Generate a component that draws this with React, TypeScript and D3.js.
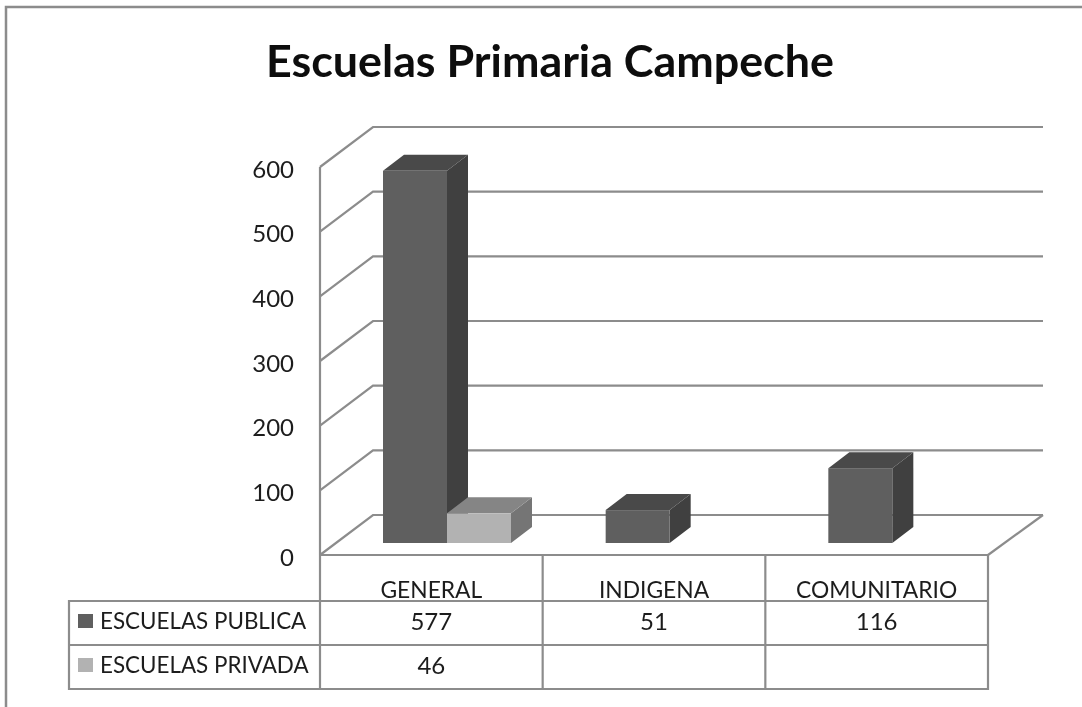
import React from 'react';
import * as d3 from 'd3';

const title = 'Escuelas Primaria Campeche';
const categories = ['GENERAL', 'INDIGENA', 'COMUNITARIO'];
const seriesNames = ['ESCUELAS PUBLICA', 'ESCUELAS PRIVADA'];
const publica: (number | null)[] = [577, 51, 116];
const privada: (number | null)[] = [46, null, null];
const yTicks = [0, 100, 200, 300, 400, 500, 600];

const W = 1082, H = 707;
const plotLeft = 320, plotRight = 988;
const floorFront = 555, wallTop = 167;
const depthXLeft = 53, depthXRight = 55, depthY = -40;
const barDX = 21, barDY = -16;
const barBase = 543;
const GRID = '#8c8c8c';
const TXT = '#1c1c1c';
const FONT = 'Lato, Carlito, "Open Sans", sans-serif';

const x0 = d3.scaleBand<string>().domain(categories).range([plotLeft, plotRight]);
const xInner = d3.scaleBand<string>().domain(['0', '1']).range([63, 63 + 128]);
const yFront = d3.scaleLinear().domain([0, 600]).range([floorFront, wallTop]);
const barH = d3.scaleLinear().domain([0, 600]).range([0, 387]);

const rowYs = [601, 645, 689];
const tableLeft = 69;
const swatchColors = ['#5f5f5f', '#b2b2b2'];

const palette = [
  { front: '#5f5f5f', top: '#484848', side: '#3f3f3f' },
  { front: '#b2b2b2', top: '#858585', side: '#747474' },
];

function Bar({ x, w, v, s }: { x: number; w: number; v: number; s: number }) {
  const top = barBase - barH(v);
  const c = palette[s];
  const poly = d3.line();
  return (
    <g>
      <path d={poly([[x + w, barBase], [x + w + barDX, barBase + barDY], [x + w + barDX, top + barDY], [x + w, top]]) + 'Z'} fill={c.side} />
      <path d={poly([[x, top], [x + barDX, top + barDY], [x + w + barDX, top + barDY], [x + w, top]]) + 'Z'} fill={c.top} />
      <rect x={x} y={top} width={w} height={barH(v)} fill={c.front} />
    </g>
  );
}

export default function App() {
  const series = [publica, privada];
  return (
    <svg width={W} height={H} style={{ position: 'absolute', left: 0, top: 0, background: '#fff' }}>
      <defs>
        <filter id="soft" x="-2%" y="-2%" width="104%" height="104%">
          <feGaussianBlur stdDeviation="0.45" />
        </filter>
      </defs>
      <g filter="url(#soft)">
        <path d={`M6,${H}V7H${W}`} fill="none" stroke={GRID} strokeWidth={2.5} />
        <text x={550} y={77} textAnchor="middle" fontFamily={FONT} fontWeight={700} fontSize={44.8} fill="#0a0a0a">{title}</text>

        {/* back wall gridlines and side wall diagonals */}
        {yTicks.map(t => (
          <path key={t} d={`M${plotLeft},${yFront(t)}L${plotLeft + depthXLeft},${yFront(t) + depthY}H${plotRight + depthXRight}`} fill="none" stroke={GRID} strokeWidth={2.2} />
        ))}
        <path d={`M${plotLeft},${wallTop}V${floorFront}`} stroke={GRID} strokeWidth={2.2} />
        {/* floor right edge */}
        <path d={`M${plotRight},${floorFront}L${plotRight + depthXRight},${floorFront + depthY}`} stroke={GRID} strokeWidth={2.2} fill="none" />

        {yTicks.map(t => (
          <text key={t} x={294} y={yFront(t) + 10.5} textAnchor="end" fontFamily={FONT} fontSize={24} fill={TXT}>{t}</text>
        ))}

        {/* bars */}
        {categories.map((c, i) =>
          series.map((vals, s) => {
            const v = vals[i];
            if (v == null) return null;
            return <Bar key={c + s} x={x0(c)! + xInner(String(s))!} w={xInner.bandwidth()} v={v} s={s} />;
          })
        )}

        {/* data table */}
        <path d={`M${plotLeft},${floorFront}H${plotRight}V${rowYs[2]}H${tableLeft}V${rowYs[0]}H${plotRight}M${tableLeft},${rowYs[1]}H${plotRight}`} fill="none" stroke={GRID} strokeWidth={2.2} />
        {[0, 1, 2].map(i => (
          <path key={i} d={`M${x0(categories[i])},${floorFront}V${rowYs[2]}`} stroke={GRID} strokeWidth={2.2} />
        ))}
        {categories.map(c => (
          <text key={c} x={x0(c)! + x0.bandwidth() / 2} y={598} textAnchor="middle" fontFamily={FONT} fontSize={22.8} fill={TXT}>{c}</text>
        ))}
        {seriesNames.map((n, s) => (
          <g key={n}>
            <rect x={78} y={rowYs[s] + 13} width={15} height={14} fill={swatchColors[s]} />
            <text x={100} y={rowYs[s] + 27.5} fontFamily={FONT} fontSize={22.4} fill={TXT}>{n}</text>
          </g>
        ))}
        {series.map((vals, s) =>
          vals.map((v, i) =>
            v == null ? null : (
              <text key={`${s}-${i}`} x={x0(categories[i])! + x0.bandwidth() / 2} y={rowYs[s] + 28.5} textAnchor="middle" fontFamily={FONT} fontSize={24} fill={TXT}>{v}</text>
            )
          )
        )}
      </g>
    </svg>
  );
}
